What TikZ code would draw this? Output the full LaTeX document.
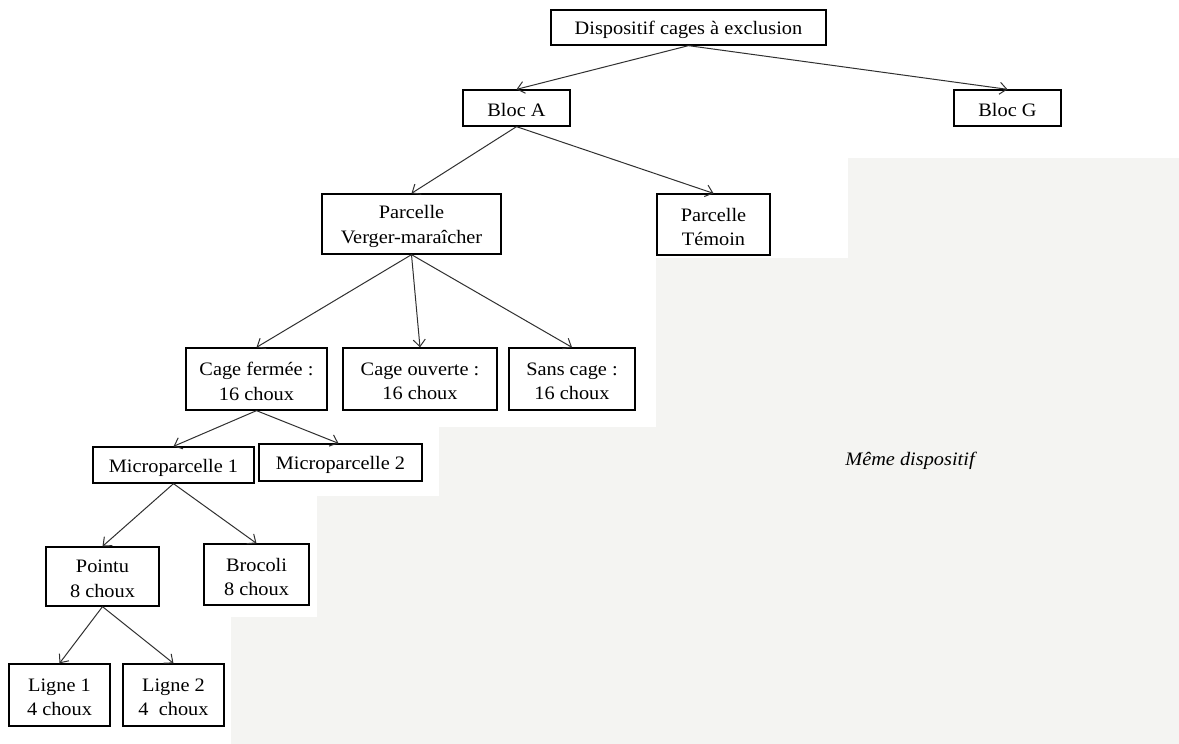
\documentclass[tikz,border=0pt]{standalone}
\usepackage{fontspec}
\setmainfont{Liberation Serif}[FakeStretch=1.07]
\usetikzlibrary{arrows.meta}
\definecolor{bggray}{HTML}{F4F4F2}
\definecolor{linegray}{HTML}{303030}
\tikzset{
  box/.style={draw=black, line width=1.3pt, fill=white, inner sep=0pt},
  boxtext/.style={align=center, inner sep=0pt, yshift=-2.5pt, font=\fontsize{19}{24.5}\selectfont},
  conn/.style={draw=linegray, line width=1pt, -{Straight Barb[length=7pt,width=12pt,line width=1pt]}},
}
\newcommand{\tbox}[6]{%
  \node[box, minimum width=#3pt, minimum height=#4pt] (#1) at (#2) {};
  \node[boxtext] (#5) at (#1.center) {#6};}
\begin{document}
\begin{tikzpicture}[x=1pt,y=-1pt]
\useasboundingbox (0,0) rectangle (1179,744);
\fill[white] (0,0) rectangle (1179,744);
\fill[bggray] (848,158) -- (1179,158) -- (1179,744) -- (231,744) -- (231,617) -- (317,617)
  -- (317,496) -- (439,496) -- (439,427) -- (656,427) -- (656,258) -- (848,258) -- cycle;
\node[font=\fontsize{19}{24.5}\selectfont\itshape] (meme) at (910,461) {Même dispositif};

\tbox{disp}{688.5,27.5}{275}{35}{tdisp}{Dispositif cages à exclusion}
\tbox{blocA}{516.5,108}{107}{36}{tblocA}{Bloc A}
\tbox{blocG}{1007.5,108}{107}{36}{tblocG}{Bloc G}
\tbox{pvm}{411.5,224}{179}{60}{tpvm}{Parcelle\\Verger-maraîcher}
\tbox{tem}{713.5,224.5}{113}{61}{ttem}{Parcelle\\Témoin}
\tbox{cf}{256.5,379}{141}{62}{tcf}{Cage fermée :\\16 choux}
\tbox{co}{420,379}{154}{62}{tco}{Cage ouverte :\\16 choux}
\tbox{sc}{572,379}{126}{62}{tsc}{Sans cage :\\16 choux}
\tbox{m1}{173.5,465}{161}{36}{tm1}{Microparcelle 1}
\tbox{m2}{340.5,462.5}{163}{37}{tm2}{Microparcelle 2}
\tbox{pt}{102.5,576.5}{113}{59}{tpt}{Pointu\\8 choux}
\tbox{br}{256.5,574.5}{105}{61}{tbr}{Brocoli\\8 choux}
\tbox{l1}{59.5,695}{101}{62}{tl1}{Ligne 1\\4 choux}
\tbox{l2}{173.5,695}{101}{62}{tl2}{Ligne 2\\4~~choux}

\draw[conn] (disp.south) -- (blocA.north);
\draw[conn] (disp.south) -- (blocG.north);
\draw[conn] (blocA.south) -- (pvm.north);
\draw[conn] (blocA.south) -- (tem.north);
\draw[conn] (pvm.south) -- (cf.north);
\draw[conn] (pvm.south) -- (co.north);
\draw[conn] (pvm.south) -- (sc.north);
\draw[conn] (cf.south) -- (m1.north);
\draw[conn] (cf.south) -- ([xshift=-2pt]m2.north);
\draw[conn] (m1.south) -- (pt.north);
\draw[conn] (m1.south) -- (br.north);
\draw[conn] (pt.south) -- (l1.north);
\draw[conn] (pt.south) -- (l2.north);
\end{tikzpicture}
\end{document}
